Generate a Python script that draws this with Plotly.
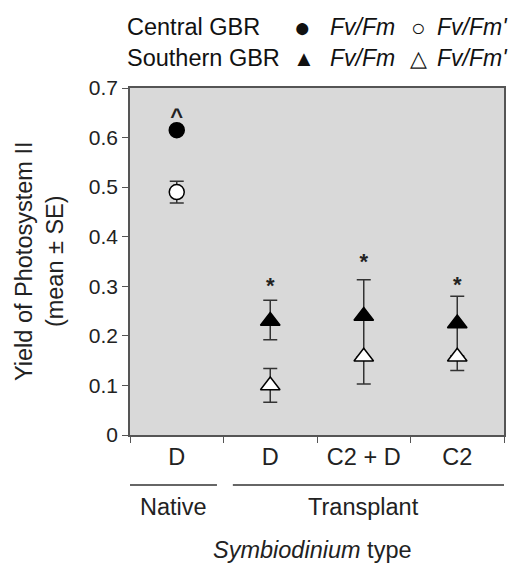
import plotly.graph_objects as go

categories = ["D_native", "D", "C2 + D", "C2"]
tick_labels = ["D", "D", "C2 + D", "C2"]

central_fvfm = [0.615, None, None, None]
central_fvfm_err = [0.004, None, None, None]
central_fvfmp = [0.49, None, None, None]
central_fvfmp_err = [0.022, None, None, None]

southern_fvfm = [None, 0.23, 0.24, 0.225]
southern_fvfm_err_up = [None, 0.042, 0.073, 0.055]
southern_fvfm_err_down = [None, 0.038, 0.082, 0.065]
southern_fvfmp = [None, 0.10, 0.158, 0.158]
southern_fvfmp_err_up = [None, 0.034, 0.0, 0.0]
southern_fvfmp_err_down = [None, 0.034, 0.055, 0.028]

sig_labels = ["^", "*", "*", "*"]
sig_y = [0.638, 0.298, 0.345, 0.300]

groups = ["Native", "Transplant"]

FONT = "Liberation Sans, Arial, sans-serif"
AX = "#555555"
TXT = 23.5

fig = go.Figure()

def add(y, up, down, symbol, fill, size):
    fig.add_trace(go.Scatter(
        x=categories, y=y, mode="markers",
        marker=dict(symbol=symbol, size=size, color=fill,
                    line=dict(color="black", width=1.5)),
        error_y=dict(type="data", symmetric=False, array=up, arrayminus=down,
                     visible=True, color="#333333", thickness=1.5, width=7),
        showlegend=False, hoverinfo="skip"))

add(central_fvfm, central_fvfm_err, central_fvfm_err, "circle", "black", 15)
add(central_fvfmp, central_fvfmp_err, central_fvfmp_err, "circle", "white", 15)
add(southern_fvfm, southern_fvfm_err_up, southern_fvfm_err_down, "triangle-up", "black", 17)
add(southern_fvfmp, southern_fvfmp_err_up, southern_fvfmp_err_down, "triangle-up", "white", 17)

fig.add_trace(go.Scatter(
    x=categories, y=sig_y, mode="text", text=[f"<b>{s}</b>" for s in sig_labels],
    textfont=dict(family=FONT, size=22, color="#222"),
    showlegend=False, hoverinfo="skip"))

fig.update_layout(
    width=514, height=566,
    margin=dict(l=130, r=8, t=88, b=131),
    paper_bgcolor="white", plot_bgcolor="#d9d9d9",
    font=dict(family=FONT, size=TXT, color="#222"),
    xaxis=dict(type="category", categoryorder="array", categoryarray=categories,
               tickvals=categories, ticktext=tick_labels,
               tickson="boundaries", ticks="outside", ticklen=6, tickcolor=AX,
               showline=True, linecolor=AX, linewidth=1.5, mirror=True,
               showgrid=False, range=[-0.5, 3.5], tickfont=dict(size=TXT)),
    yaxis=dict(range=[0, 0.7], dtick=0.1, ticks="outside", ticklen=6, tickcolor=AX,
               showline=True, linecolor=AX, linewidth=1.5, mirror=True,
               showgrid=False, zeroline=False, tickfont=dict(size=21)),
)

def py(pix):
    return (435 - pix) / 347.0

def lx(pix):
    return (pix - 130) / 376.0

# y axis title
fig.add_annotation(x=lx(39), y=0.5, xref="paper", yref="paper",
                   text="Yield of Photosystem II<br>(mean ± SE)", textangle=-90,
                   showarrow=False, xanchor="center", yanchor="middle",
                   font=dict(size=TXT))

# group lines and labels
ly = py(485)
fig.add_shape(type="line", xref="x", yref="paper", x0=-0.5, x1=0.43, y0=ly, y1=ly,
              line=dict(color="#333", width=1.5))
fig.add_shape(type="line", xref="x", yref="paper", x0=0.6, x1=3.5, y0=ly, y1=ly,
              line=dict(color="#333", width=1.5))
fig.add_annotation(x=-0.03, y=py(507), xref="x", yref="paper", text=groups[0],
                   showarrow=False, yanchor="middle")
fig.add_annotation(x=2.0, y=py(507), xref="x", yref="paper", text=groups[1],
                   showarrow=False, yanchor="middle")
fig.add_annotation(x=1.45, y=py(550), xref="x", yref="paper",
                   text="<i>Symbiodinium</i> type", showarrow=False,
                   yanchor="middle")

# legend as text
leg = [
    (125, 27, "Central GBR", "left", TXT),
    (303, 27, "●", "center", 28),
    (329, 27, "<i>Fv/Fm</i>", "left", 23),
    (420, 27, "○", "center", 24),
    (437, 27, "<i>Fv/Fm'</i>", "left", 23),
    (125, 58, "Southern GBR", "left", TXT),
    (305, 58, "▲", "center", 22),
    (329, 58, "<i>Fv/Fm</i>", "left", 23),
    (420, 58, "△", "center", 22),
    (437, 58, "<i>Fv/Fm'</i>", "left", 23),
]
for x, y, t, anc, s in leg:
    fig.add_annotation(x=lx(x), y=py(y), xref="paper", yref="paper", text=t,
                       showarrow=False, xanchor=anc, yanchor="middle",
                       font=dict(size=s, color="#111"))

fig.write_html("out.html")
